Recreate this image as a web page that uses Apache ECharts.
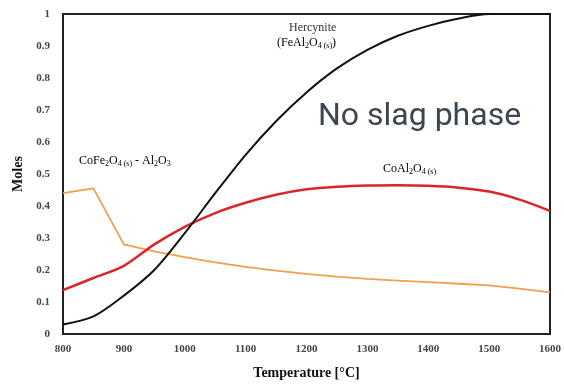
<!DOCTYPE html>
<html><head><meta charset="utf-8">
<script src="https://cdn.jsdelivr.net/npm/echarts@6/dist/echarts.min.js"></script>
<style>html,body{margin:0;padding:0;background:#fff}#c{width:564px;height:385px}</style>
</head><body><div id="c"></div>
<script>
const temps = [800,850,900,950,1000,1050,1100,1150,1200,1250,1300,1350,1400,1450,1500,1550,1600];
const hercynite = [0.03,0.055,0.12,0.2,0.315,0.44,0.56,0.665,0.755,0.83,0.888,0.932,0.963,0.986,1.0,1.0,1.0];
const coAl2O4 = [0.137,0.175,0.213,0.28,0.335,0.378,0.41,0.435,0.452,0.46,0.464,0.465,0.463,0.457,0.445,0.42,0.385];
const coFe2O4 = [0.44,0.455,0.28,0.258,0.24,0.224,0.21,0.198,0.188,0.179,0.172,0.167,0.162,0.157,0.152,0.142,0.13];
const yTicks = [0,0.1,0.2,0.3,0.4,0.5,0.6,0.7,0.8,0.9,1];

const pair = a => temps.map((t,i)=>[t,a[i]]);
const serif = '"Liberation Serif","DejaVu Serif",serif';
const chart = echarts.init(document.getElementById('c'));
const sub = {fontFamily: serif, fontSize: 8, color:'#333', padding:[6,0,0,0]};
const main = {fontFamily: serif, fontSize: 12, color:'#333'};
chart.setOption({
  animation:false,
  grid:{left:63,right:11,top:14,bottom:48,show:true,borderColor:'#222',borderWidth:2,backgroundColor:'#fff'},
  xAxis:{type:'value',min:800,max:1600,interval:100,
    axisLine:{show:false},axisTick:{show:false},splitLine:{show:false},
    axisLabel:{fontFamily:serif,fontSize:11,fontWeight:'bold',color:'#444',margin:10,formatter:v=>String(v)},
    name:'Temperature [°C]',nameLocation:'middle',nameGap:32,
    nameTextStyle:{fontFamily:serif,fontSize:14,fontWeight:'bold',color:'#111'}},
  yAxis:{type:'value',min:0,max:1,interval:0.1,
    axisLine:{show:false},axisTick:{show:false},splitLine:{show:false},
    axisLabel:{fontFamily:serif,fontSize:11,fontWeight:'bold',color:'#444',margin:13,
      formatter:v=>String(Math.round(v*10)/10)},
    name:'Moles',nameLocation:'middle',nameGap:38,
    nameTextStyle:{fontFamily:serif,fontSize:14,fontWeight:'bold',color:'#111'}},
  series:[
    {type:'line',data:pair(coFe2O4),showSymbol:false,lineStyle:{color:'#f0a04c',width:1.8},z:3},
    {type:'line',data:pair(coAl2O4),showSymbol:false,smooth:0.3,lineStyle:{color:'#d9262a',width:2.5},z:4},
    {type:'line',data:pair(hercynite),showSymbol:false,smooth:0.3,lineStyle:{color:'#111',width:2},z:5}
  ],
  graphic:[
    {type:'text',left:318,top:101,style:{text:'No slag phase',font:'32px Roboto, "Liberation Sans", sans-serif',fill:'#3d4650'}},
    {type:'text',left:289,top:22,style:{text:'Hercynite',font:'12px '+serif,fill:'#333'}},
    {type:'text',left:277,top:37,style:{rich:{m:main,s:sub},text:'{m|(FeAl}{s|2}{m|O}{s|4 (s)}{m|)}'}},
    {type:'text',left:79,top:155,style:{rich:{m:main,s:sub},text:'{m|CoFe}{s|2}{m|O}{s|4 (s)}{m| - Al}{s|2}{m|O}{s|3}'}},
    {type:'text',left:383,top:163,style:{rich:{m:main,s:sub},text:'{m|CoAl}{s|2}{m|O}{s|4 (s)}'}}
  ]
});
</script></body></html>
